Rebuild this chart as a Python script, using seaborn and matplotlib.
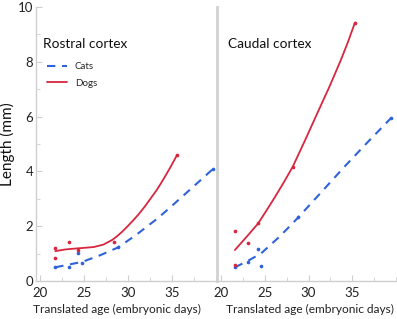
import matplotlib
matplotlib.use("Agg")
import matplotlib.pyplot as plt
import seaborn as sns
from matplotlib.ticker import MultipleLocator

# Rostral cortex: measured points
rostral_cat_x = [21.7, 23.25, 24.3, 24.8, 28.9, 39.7]
rostral_cat_y = [0.52, 0.52, 1.01, 0.65, 1.25, 4.09]
rostral_dog_x = [21.7, 21.7, 23.25, 24.3, 28.4, 35.6]
rostral_dog_y = [1.19, 0.85, 1.42, 1.13, 1.43, 4.60]

# Rostral cortex: fitted curves
rostral_cat_fit_x = [21.7, 24.8, 26.9, 28.9, 31.0, 33.4, 35.0, 36.4, 38.0, 39.7]
rostral_cat_fit_y = [0.50, 0.70, 0.95, 1.23, 1.70, 2.29, 2.74, 3.14, 3.60, 4.09]
rostral_dog_fit_x = [21.7, 22.8, 23.8, 25.0, 26.1, 27.2, 28.2, 28.7, 29.3, 29.9, 30.5,
                     31.2, 31.9, 32.6, 33.3, 34.0, 34.8, 35.6]
rostral_dog_fit_y = [1.09, 1.15, 1.18, 1.21, 1.24, 1.33, 1.50, 1.62, 1.79, 1.98, 2.18,
                     2.43, 2.71, 3.02, 3.33, 3.69, 4.13, 4.60]

# Caudal cortex: measured points
caudal_cat_x = [21.6, 23.1, 24.2, 24.6, 28.8, 39.4]
caudal_cat_y = [0.52, 0.70, 1.16, 0.56, 2.32, 5.94]
caudal_dog_x = [21.6, 21.6, 23.1, 24.25, 28.2, 35.3]
caudal_dog_y = [1.82, 0.58, 1.37, 2.10, 4.17, 9.43]

# Caudal cortex: fitted curves
caudal_cat_fit_x = [21.6, 23.0, 24.6, 26.7, 28.8, 31.4, 34.1, 36.7, 39.4]
caudal_cat_fit_y = [0.50, 0.72, 1.01, 1.62, 2.31, 3.22, 4.17, 5.05, 5.94]
caudal_dog_fit_x = [21.6, 22.9, 24.25, 25.2, 26.2, 27.2, 28.2, 29.6, 31.0, 32.4, 33.7, 34.5, 35.3]
caudal_dog_fit_y = [1.13, 1.60, 2.10, 2.57, 3.08, 3.61, 4.17, 5.13, 6.12, 7.10, 8.07, 8.72, 9.43]

panel_titles = ["Rostral cortex", "Caudal cortex"]
x_ticks = [20, 25, 30, 35]
y_ticks = [0, 2, 4, 6, 8, 10]

cat_color = "#2f63d8"
dog_color = "#d8263f"
axis_gray = "#cfcfcf"

sns.set_style("ticks")
plt.rcParams["font.family"] = ["Lato", "DejaVu Sans"]

fig = plt.figure(figsize=(3.97, 3.19), dpi=100)
W, H = 397, 319
ax1 = fig.add_axes([36 / W, 38 / H, 180.5 / W, 274 / H])
ax2 = fig.add_axes([216.5 / W, 38 / H, 180.5 / W, 274 / H])

panels = [
    (ax1, rostral_cat_x, rostral_cat_y, rostral_dog_x, rostral_dog_y,
     rostral_cat_fit_x, rostral_cat_fit_y, rostral_dog_fit_x, rostral_dog_fit_y),
    (ax2, caudal_cat_x, caudal_cat_y, caudal_dog_x, caudal_dog_y,
     caudal_cat_fit_x, caudal_cat_fit_y, caudal_dog_fit_x, caudal_dog_fit_y),
]

for i, (ax, cx, cy, dx, dy, cfx, cfy, dfx, dfy) in enumerate(panels):
    sns.lineplot(x=cfx, y=cfy, ax=ax, color=cat_color, lw=1.5,
                 ls=(0, (4, 3.2)), sort=False, label="Cats")
    sns.lineplot(x=dfx, y=dfy, ax=ax, color=dog_color, lw=1.3,
                 sort=False, label="Dogs")
    sns.scatterplot(x=cx, y=cy, ax=ax, color=cat_color, s=7, linewidth=0, zorder=3)
    sns.scatterplot(x=dx, y=dy, ax=ax, color=dog_color, s=7, linewidth=0, zorder=3)

    ax.set_xlim(19.5, 40.1)
    ax.set_ylim(0, 10)
    ax.set_xticks(x_ticks)
    ax.xaxis.set_minor_locator(MultipleLocator(2.5))
    ax.tick_params(axis="x", which="both", direction="in", colors=axis_gray,
                   labelcolor="#222222", labelsize=9.5, pad=4)
    ax.tick_params(axis="x", which="major", length=4)
    ax.tick_params(axis="x", which="minor", length=3)
    for s in ["top", "right"]:
        ax.spines[s].set_visible(False)
    ax.spines["bottom"].set_color(axis_gray)
    ax.spines["bottom"].set_linewidth(1)
    ax.set_xlabel("Translated age (embryonic days)", fontsize=8.6, color="#222222")
    ax.set_ylabel("")
    ax.text(0.04 if i == 0 else 0.064, 0.865, panel_titles[i], transform=ax.transAxes,
            fontsize=9.8, va="center", ha="left", color="#111111")

    if i == 0:
        ax.set_yticks(y_ticks)
        ax.yaxis.set_minor_locator(MultipleLocator(1))
        ax.tick_params(axis="y", which="both", direction="in", colors=axis_gray,
                       labelcolor="#222222", labelsize=9.5, pad=2)
        ax.tick_params(axis="y", which="major", length=4)
        ax.tick_params(axis="y", which="minor", length=3)
        ax.spines["left"].set_color(axis_gray)
        ax.spines["left"].set_linewidth(1)
        ax.set_ylabel("Length (mm)", fontsize=11, color="#111111")
        ax.yaxis.set_label_coords(-0.115, 0.50)
        ax.xaxis.set_label_coords(0.45, -0.085)
        ax.legend(loc="upper left", bbox_to_anchor=(0.01, 0.83), frameon=False,
                  fontsize=7, handlelength=2.1, handletextpad=0.8, labelspacing=0.75)
    else:
        ax.set_yticks([])
        ax.spines["left"].set_color("#d2d2d2")
        ax.spines["left"].set_linewidth(2)
        ax.xaxis.set_label_coords(0.518, -0.085)
        ax.get_legend().remove()

fig.savefig("out.png", dpi=100)
